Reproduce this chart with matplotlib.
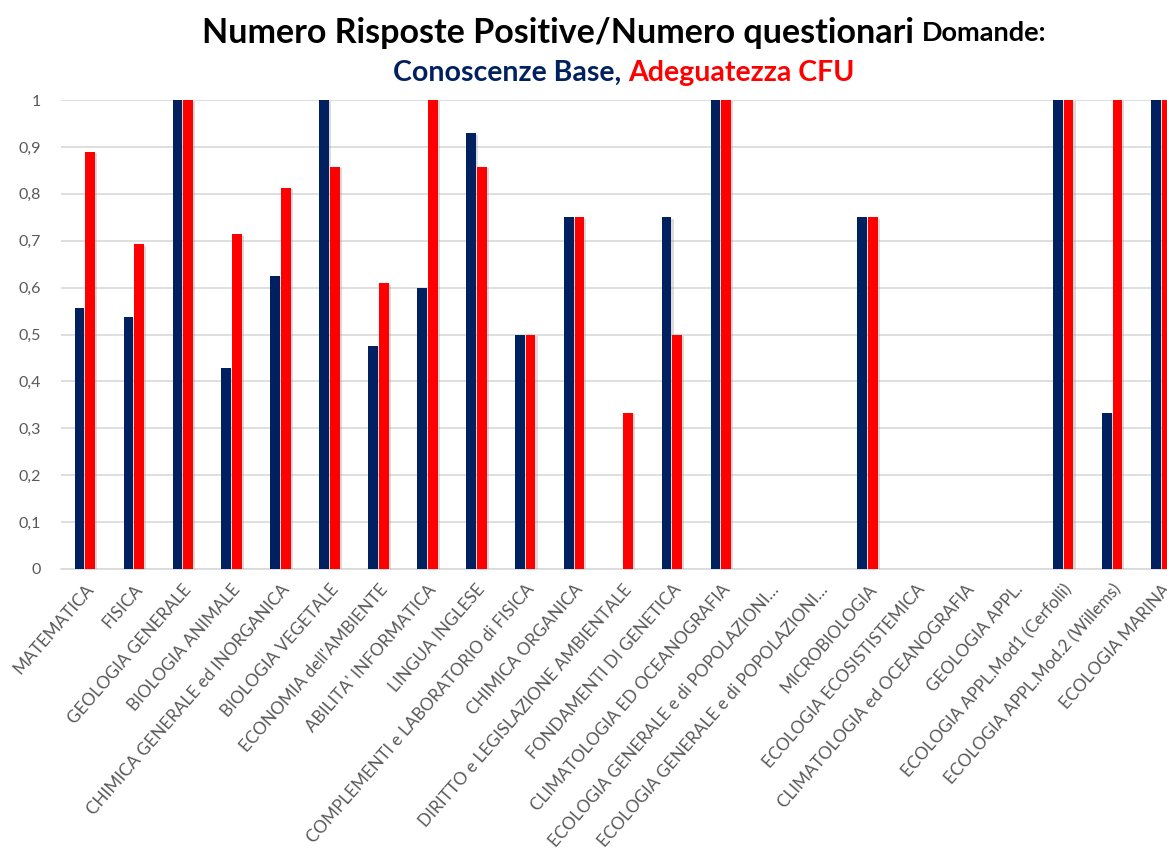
import numpy as np
import matplotlib
matplotlib.use("Agg")
import matplotlib.pyplot as plt
import matplotlib.patheffects as pe
from matplotlib.ticker import FuncFormatter

matplotlib.rcParams["font.family"] = ["Lato", "DejaVu Sans"]

# ── Data ────────────────────────────────────────────────────────────────
categories = [
    "MATEMATICA", "FISICA", "GEOLOGIA GENERALE", "BIOLOGIA ANIMALE",
    "CHIMICA GENERALE ed INORGANICA", "BIOLOGIA VEGETALE",
    "ECONOMIA dell'AMBIENTE", "ABILITA' INFORMATICA", "LINGUA INGLESE",
    "COMPLEMENTI e LABORATORIO di FISICA", "CHIMICA ORGANICA",
    "DIRITTO e LEGISLAZIONE AMBIENTALE", "FONDAMENTI DI GENETICA",
    "CLIMATOLOGIA ED OCEANOGRAFIA", "ECOLOGIA GENERALE e di POPOLAZIONI…",
    "ECOLOGIA GENERALE e di POPOLAZIONI…", "MICROBIOLOGIA",
    "ECOLOGIA ECOSISTISTEMICA", "CLIMATOLOGIA ed OCEANOGRAFIA",
    "GEOLOGIA APPL.", "ECOLOGIA APPL.Mod1 (Cerfolli)",
    "ECOLOGIA APPL.Mod.2 (Willems)", "ECOLOGIA MARINA",
]
conoscenze_base = [0.556, 0.538, 1.0, 0.429, 0.625, 1.0, 0.476, 0.6, 0.929,
                   0.5, 0.75, 0.0, 0.75, 1.0, 0.0, 0.0, 0.75, 0.0, 0.0, 0.0,
                   1.0, 0.333, 1.0]
adeguatezza_cfu = [0.889, 0.692, 1.0, 0.714, 0.8125, 0.857, 0.609, 1.0, 0.857,
                   0.5, 0.75, 0.333, 0.5, 1.0, 0.0, 0.0, 0.75, 0.0, 0.0, 0.0,
                   1.0, 1.0, 1.0]

NAVY = "#002060"
RED = "#FF0000"
GREY = "#595959"

W, H = 1167, 857
fig = plt.figure(figsize=(W / 100, H / 100), dpi=100)
# axes runs past the right edge, as in the cropped original
ax = fig.add_axes([60.5 / W, 288 / H, 1125 / W, 469 / H])

x = np.arange(len(categories))
bw = 0.2
shadow = [pe.SimplePatchShadow(offset=(1.5, -1), shadow_rgbFace="#999999", alpha=0.35), pe.Normal()]
b1 = ax.bar(x - bw / 2 - 0.01, conoscenze_base, width=bw, color=NAVY, zorder=3)
b2 = ax.bar(x + bw / 2 + 0.01, adeguatezza_cfu, width=bw, color=RED, zorder=3)
for p in list(b1) + list(b2):
    p.set_path_effects(shadow)

ax.set_xlim(-0.5, len(categories) - 0.5)
ax.set_ylim(0, 1)
ax.set_yticks(np.arange(0, 1.01, 0.1))
ax.yaxis.set_major_formatter(FuncFormatter(
    lambda v, p: f"{int(round(v))}" if round(v, 3) in (0, 1) else f"{v:.1f}".replace(".", ",")))
ax.grid(axis="y", color="#d9d9d9", linewidth=1.2, zorder=0)
ax.set_axisbelow(True)
for s in ["top", "right", "left"]:
    ax.spines[s].set_visible(False)
ax.spines["bottom"].set_color("#d9d9d9")
ax.spines["bottom"].set_linewidth(1.2)
ax.tick_params(axis="both", length=0, colors=GREY, labelsize=11.5)
ax.tick_params(axis="y", pad=14)

ax.set_xticks(x)
ax.set_xticklabels(categories, rotation=49, ha="right", rotation_mode="anchor",
                   fontsize=12.3, color=GREY)
ax.tick_params(axis="x", pad=9)

# ── Title (mixed sizes / colours) ───────────────────────────────────────
cx = 624 / W
fig.canvas.draw()
renderer = fig.canvas.get_renderer()


def centred_line(parts, y):
    texts = [fig.text(0, y, s, fontsize=fs, color=c, fontweight="bold", va="center")
             for s, fs, c in parts]
    widths = [t.get_window_extent(renderer).width for t in texts]
    start = cx * W - sum(widths) / 2
    for t, w in zip(texts, widths):
        t.set_x(start / W)
        start += w


centred_line([("Numero Risposte Positive/Numero questionari ", 24.5, "black"),
              ("Domande:", 19.5, "black")], 1 - 33 / H)
centred_line([("Conoscenze Base, ", 20.5, NAVY),
              ("Adeguatezza CFU", 20.5, RED)], 1 - 73 / H)

fig.savefig("out.png", dpi=100, facecolor="white")
